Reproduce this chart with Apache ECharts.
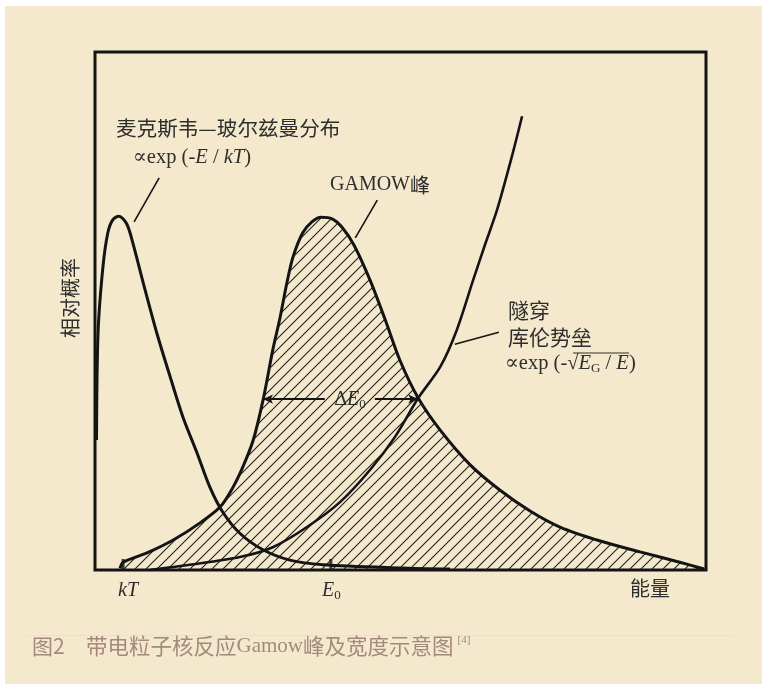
<!DOCTYPE html>
<html>
<head>
<meta charset="utf-8">
<script src="https://cdn.jsdelivr.net/npm/echarts@6/dist/echarts.min.js"></script>
<style>
  html, body { margin: 0; padding: 0; background: #ffffff; }
  #chart { width: 762px; height: 684px; }
</style>
</head>
<body>
<div id="chart"></div>
<script>
// energy axis 0..10, relative probability 0..10
const maxwellCurve = [
  [0.025, 2.51], [0.05, 4.58], [0.13, 5.85], [0.21, 6.51], [0.29, 6.76], [0.39, 6.83],
  [0.52, 6.68], [0.62, 6.31], [0.79, 5.54], [1.01, 4.58], [1.23, 3.73], [1.44, 2.95],
  [1.67, 2.26], [1.88, 1.60], [2.09, 1.12], [2.37, 0.71], [2.75, 0.39], [3.19, 0.19],
  [3.73, 0.10], [4.99, 0.04], [5.81, 0.02]
];
const gamowCurve = [
  [0.41, 0.03], [0.46, 0.15], [0.85, 0.33], [1.28, 0.58], [1.72, 0.91], [2.05, 1.22],
  [2.26, 1.60], [2.42, 1.99], [2.59, 2.51], [2.75, 3.28], [2.91, 4.25], [3.03, 4.88],
  [3.14, 5.54], [3.24, 6.04], [3.40, 6.51], [3.55, 6.72], [3.70, 6.81], [3.88, 6.78],
  [4.04, 6.62], [4.24, 6.27], [4.50, 5.60], [4.75, 4.83], [4.99, 4.05], [5.29, 3.32],
  [5.65, 2.70], [6.14, 2.03], [6.63, 1.54], [7.12, 1.14], [7.61, 0.83], [8.27, 0.56],
  [8.92, 0.35], [9.57, 0.15], [9.97, 0.02]
];
const tunnelCurve = [
  [0.90, 0.0], [1.55, 0.10], [2.37, 0.25], [2.91, 0.44], [3.47, 0.83], [4.01, 1.31],
  [4.50, 1.93], [4.91, 2.57], [5.29, 3.32], [5.65, 3.92], [5.92, 4.63], [6.19, 5.60],
  [6.38, 6.27], [6.58, 6.95], [6.82, 7.97], [6.99, 8.76]
];
const tickMarks = [[0.46, 0], [3.86, 0]];
const pointerLines = [
  [[1.05, 7.57], [0.64, 6.72]],
  [[4.62, 7.14], [4.26, 6.41]],
  [[6.61, 4.59], [5.89, 4.36]]
];
const widthArrows = [
  [[3.76, 3.30], [2.75, 3.30]],
  [[4.58, 3.30], [5.29, 3.30]]
];

const ink = "#141414";
const textColor = "#2e2e2e";
const captionColor = "#a5877f";
const cjk = '"Noto Sans CJK SC", sans-serif';
const serif = '"Liberation Serif", "DejaVu Serif", serif';

// diagonal hatch for the Gamow peak
const hatch = document.createElement("canvas");
hatch.width = 11;
hatch.height = 11;
const hc = hatch.getContext("2d");
hc.strokeStyle = "#222";
hc.lineWidth = 1.1;
hc.beginPath();
hc.moveTo(-1, 12); hc.lineTo(12, -1);
hc.moveTo(-1, 1); hc.lineTo(1, -1);
hc.moveTo(10, 12); hc.lineTo(12, 10);
hc.stroke();

const mathRich = {
  n: { font: "20.5px " + serif, fill: textColor, lineHeight: 24 },
  i: { font: "italic 20.5px " + serif, fill: textColor, lineHeight: 24 },
  s: { font: "13px " + serif, fill: textColor, lineHeight: 24, padding: [10, 0, 0, 0] }
};

const chart = echarts.init(document.getElementById("chart"));
chart.setOption({
  animation: false,
  backgroundColor: "#f4e9cd",
  grid: {
    left: 95, top: 52, width: 611, height: 518,
    show: true, borderColor: ink, borderWidth: 3, backgroundColor: "transparent"
  },
  xAxis: {
    type: "value", min: 0, max: 10,
    axisLine: { show: false }, axisTick: { show: false },
    axisLabel: { show: false }, splitLine: { show: false }
  },
  yAxis: {
    type: "value", min: 0, max: 10,
    axisLine: { show: false }, axisTick: { show: false },
    axisLabel: { show: false }, splitLine: { show: false }
  },
  series: [
    {
      type: "line", data: gamowCurve, smooth: 0.3, showSymbol: false,
      lineStyle: { color: ink, width: 3 },
      areaStyle: { color: { image: hatch, repeat: "repeat" }, opacity: 1, origin: "start" },
      z: 3
    },
    {
      type: "line", data: maxwellCurve, smooth: 0.3, showSymbol: false,
      lineStyle: { color: ink, width: 3 }, z: 4
    },
    {
      type: "line", data: tunnelCurve, smooth: 0.3, showSymbol: false,
      lineStyle: { color: ink, width: 2.6 }, z: 4,
      markLine: {
        silent: true, symbol: ["none", "none"], label: { show: false },
        lineStyle: { color: ink, width: 1.6, type: "solid" },
        data: pointerLines.map(p => [{ coord: p[0] }, { coord: p[1] }])
      }
    },
    {
      type: "line", data: [], showSymbol: false,
      markLine: {
        silent: true, symbol: ["none", "arrow"], symbolSize: [7, 10], label: { show: false },
        lineStyle: { color: ink, width: 2, type: "solid" },
        data: widthArrows.map(p => [{ coord: p[0] }, { coord: p[1] }])
      }
    },
    {
      type: "scatter", data: tickMarks, symbol: "rect", symbolSize: [3, 12],
      symbolOffset: [0, -5], itemStyle: { color: ink }, z: 5
    }
  ],
  graphic: [
    { type: "rect", left: 0, top: 0, shape: { width: 762, height: 6 }, style: { fill: "#ffffff" } },
    { type: "rect", left: 0, top: 0, shape: { width: 5, height: 684 }, style: { fill: "#ffffff" } },
    { type: "rect", left: 27, top: 635, shape: { width: 708, height: 1 }, style: { fill: "#ede1c3" } },
    {
      type: "text", x: 116, y: 128,
      style: { text: "麦克斯韦—玻尔兹曼分布", font: "20.6px " + cjk, fill: textColor, verticalAlign: "middle" }
    },
    {
      type: "text", x: 133, y: 158,
      style: { text: "{n|∝exp (-}{i|E}{n| / }{i|kT}{n|)}", rich: mathRich, verticalAlign: "middle" }
    },
    {
      type: "text", x: 330, y: 185,
      style: { text: "{n|GAMOW}{c|峰}", verticalAlign: "middle",
        rich: { n: { font: "20px " + serif, fill: textColor }, c: { font: "20px " + cjk, fill: textColor } } }
    },
    {
      type: "text", x: 508, y: 310,
      style: { text: "隧穿", font: "21px " + cjk, fill: textColor, verticalAlign: "middle" }
    },
    {
      type: "text", x: 508, y: 337,
      style: { text: "库伦势垒", font: "21px " + cjk, fill: textColor, verticalAlign: "middle" }
    },
    {
      type: "text", x: 505, y: 364,
      style: { text: "{n|∝exp (-√}{i|E}{s|G}{n| / }{i|E}{n|)}", rich: mathRich, verticalAlign: "middle" }
    },
    { type: "line", shape: { x1: 573, y1: 353, x2: 629, y2: 353 }, style: { stroke: textColor, lineWidth: 1 } },
    {
      type: "text", x: 350, y: 400,
      style: { text: "{n|Δ}{i|E}{s|0}", verticalAlign: "middle", align: "center",
        rich: { n: { font: "20px " + serif, fill: textColor, lineHeight: 24 },
                i: { font: "italic 20px " + serif, fill: textColor, lineHeight: 24 },
                s: { font: "13px " + serif, fill: textColor, lineHeight: 24, padding: [10, 0, 0, 0] } } }
    },
    {
      type: "text", x: 70, y: 298, rotation: Math.PI / 2,
      style: { text: "相对概率", font: "20px " + cjk, fill: textColor, align: "center", verticalAlign: "middle" }
    },
    {
      type: "text", x: 128, y: 591,
      style: { text: "kT", font: "italic 20px " + serif, fill: textColor, align: "center", verticalAlign: "middle" }
    },
    {
      type: "text", x: 322, y: 591,
      style: { text: "{n|E}{s|0}", verticalAlign: "middle",
        rich: { n: { font: "italic 20px " + serif, fill: textColor, lineHeight: 24 },
                s: { font: "13px " + serif, fill: textColor, lineHeight: 24, padding: [10, 0, 0, 0] } } }
    },
    {
      type: "text", x: 630, y: 588,
      style: { text: "能量", font: "20px " + cjk, fill: textColor, verticalAlign: "middle" }
    },
    {
      type: "text", x: 32, y: 646,
      style: { text: "图2", font: "21px " + cjk, fill: captionColor, verticalAlign: "middle" }
    },
    {
      type: "text", x: 86, y: 646,
      style: { text: "{c|带电粒子核反应}{g|Gamow}{c|峰及宽度示意图}{r|[4]}", verticalAlign: "middle",
        rich: {
          c: { font: "21.5px " + cjk, fill: captionColor, lineHeight: 26 },
          g: { font: "21px " + serif, fill: captionColor, lineHeight: 26 },
          r: { font: "11px " + serif, fill: captionColor, lineHeight: 26, padding: [0, 0, 12, 4] }
        } }
    }
  ]
});
</script>
</body>
</html>
